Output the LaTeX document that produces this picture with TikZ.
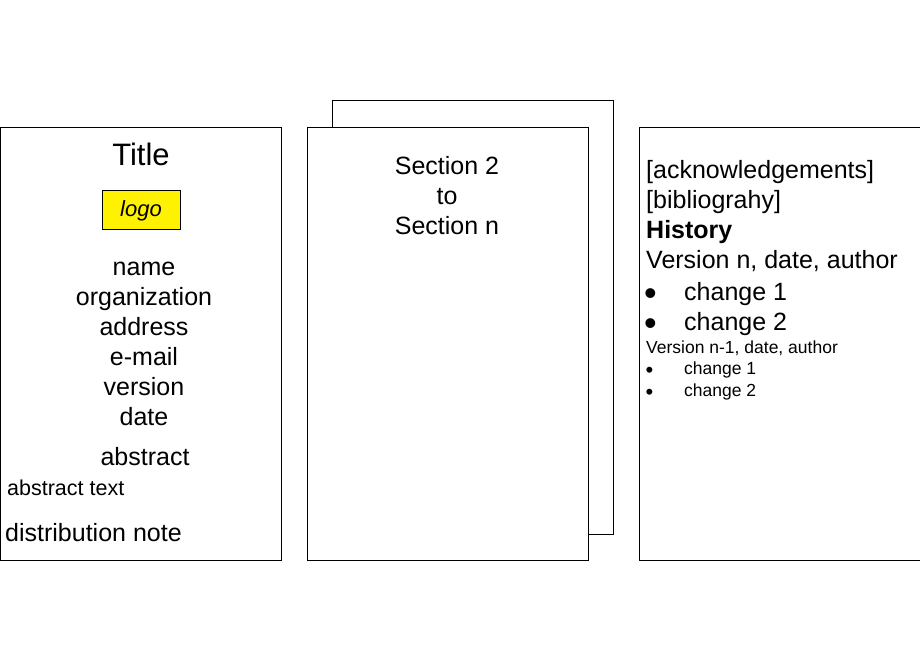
\documentclass[tikz,border=0pt]{standalone}
\usepackage{fontspec}
\setmainfont{Liberation Sans}
\begin{document}
\begin{tikzpicture}[x=1pt,y=-1pt,
  page/.style={draw=black,line width=0.8pt,fill=white},
  big/.style={font=\fontsize{25}{30}\selectfont,inner sep=0pt},
  small/.style={font=\fontsize{17.5}{21}\selectfont,inner sep=0pt},
  mid/.style={font=\fontsize{21.5}{25}\selectfont,inner sep=0pt},
  bigdot/.style={font=\fontsize{36}{40}\selectfont,inner sep=0pt,anchor=base west},
  smalldot/.style={font=\fontsize{22}{26}\selectfont,inner sep=0pt,anchor=base west}]
\useasboundingbox (0,0) rectangle (920,660);
\clip (0,0) rectangle (920,660);
% pages
\draw[page] (0.8,127) rectangle (281,560);
\draw[page] (332,100.5) rectangle (613,534);
\draw[page] (307,127) rectangle (588,560);
\draw[page] (639,127) rectangle (930,560);
% left page
\node[inner sep=0pt,font=\fontsize{31}{36}\selectfont,anchor=base] (title) at (141,166) {Title};
\node[draw=black,line width=0.8pt,fill=yellow,minimum width=78pt,minimum height=39pt,inner sep=0pt] (logo) at (141,209.5) {};
\node[inner sep=0pt,font=\fontsize{22}{26}\selectfont\itshape,anchor=base] (logotext) at (141,217) {logo};
\node[big,anchor=base] (name) at (144,275) {name};
\node[big,anchor=base] (org) at (144,305) {organization};
\node[big,anchor=base] (addr) at (144,335) {address};
\node[big,anchor=base] (mail) at (144,365.5) {e-mail};
\node[big,anchor=base] (ver) at (144,395.5) {version};
\node[big,anchor=base] (date) at (144,425.5) {date};
\node[big,anchor=base] (abs) at (145,465) {abstract};
\node[mid,anchor=base west] (abstext) at (7,495) {abstract text};
\node[big,anchor=base west] (dist) at (5,541.5) {distribution note};
% middle page
\node[big,anchor=base] (s2) at (447,175) {Section 2};
\node[big,anchor=base] (to) at (447,205) {to};
\node[big,anchor=base] (sn) at (447,235) {Section n};
% right page
\node[big,anchor=base west] (ack) at (646,179) {[acknowledgements]};
\node[big,anchor=base west] (bib) at (646,209) {[bibliograhy]};
\node[big,anchor=base west,font=\fontsize{25}{30}\selectfont\bfseries] (hist) at (646,239) {History};
\node[big,anchor=base west] (vn) at (646,269) {Version n, date, author};
\node[bigdot] (b1) at (644,305) {•};
\node[big,anchor=base west] (c1) at (684,300) {change 1};
\node[bigdot] (b2) at (644,335) {•};
\node[big,anchor=base west] (c2) at (684,330) {change 2};
\node[small,anchor=base west] (vn1) at (646,353) {Version n-1, date, author};
\node[smalldot] (b3) at (645.5,377) {•};
\node[small,anchor=base west] (c3) at (684,374) {change 1};
\node[smalldot] (b4) at (645.5,399) {•};
\node[small,anchor=base west] (c4) at (684,396) {change 2};
\end{tikzpicture}
\end{document}
